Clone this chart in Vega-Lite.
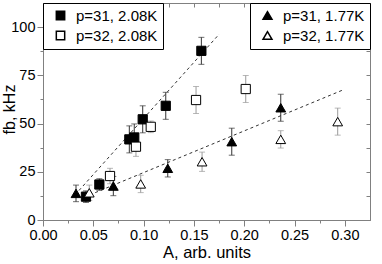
{
  "$schema": "https://vega.github.io/schema/vega-lite/v6.json",
  "width": 327,
  "height": 217,
  "autosize": {"type": "none"},
  "padding": {"left": 43, "top": 3, "right": 12, "bottom": 44},
  "background": "white",
  "config": {
    "font": "Liberation Sans",
    "view": {"stroke": "#808080"},
    "axis": {"domainColor": "#808080", "tickColor": "#808080", "labelColor": "black", "titleColor": "black", "labelFont": "Liberation Sans", "titleFont": "Liberation Sans", "titleFontWeight": "normal", "grid": false, "labelFontSize": 14.5, "titleFontSize": 16, "labelFlush": false},
    "legend": {"labelFont": "Liberation Sans"}
  },
  "datasets": {
    "pts": [
      {"A": 0.0427, "f": 12.1, "lo": 9.1, "hi": 15.1, "series": "p=31, 2.08K", "temp": "2.08K"},
      {"A": 0.0560, "f": 18.4, "lo": 15.4, "hi": 21.4, "series": "p=31, 2.08K", "temp": "2.08K"},
      {"A": 0.0858, "f": 41.8, "lo": 34.8, "hi": 48.8, "series": "p=31, 2.08K", "temp": "2.08K"},
      {"A": 0.0907, "f": 42.8, "lo": 35.8, "hi": 49.8, "series": "p=31, 2.08K", "temp": "2.08K"},
      {"A": 0.0991, "f": 52.2, "lo": 45.2, "hi": 59.2, "series": "p=31, 2.08K", "temp": "2.08K"},
      {"A": 0.1220, "f": 59.2, "lo": 52.2, "hi": 66.2, "series": "p=31, 2.08K", "temp": "2.08K"},
      {"A": 0.1574, "f": 87.7, "lo": 80.7, "hi": 94.7, "series": "p=31, 2.08K", "temp": "2.08K"},
      {"A": 0.0666, "f": 22.8, "lo": 18.8, "hi": 26.8, "series": "p=32, 2.08K", "temp": "2.08K"},
      {"A": 0.0924, "f": 38.0, "lo": 33.0, "hi": 43.0, "series": "p=32, 2.08K", "temp": "2.08K"},
      {"A": 0.1071, "f": 48.3, "lo": 45.3, "hi": 51.3, "series": "p=32, 2.08K", "temp": "2.08K"},
      {"A": 0.1521, "f": 62.2, "lo": 55.2, "hi": 69.2, "series": "p=32, 2.08K", "temp": "2.08K"},
      {"A": 0.2015, "f": 67.9, "lo": 60.9, "hi": 74.9, "series": "p=32, 2.08K", "temp": "2.08K"},
      {"A": 0.0328, "f": 13.8, "lo": 9.5, "hi": 18.1, "series": "p=31, 1.77K", "temp": "1.77K"},
      {"A": 0.0699, "f": 17.6, "lo": 12.6, "hi": 22.6, "series": "p=31, 1.77K", "temp": "1.77K"},
      {"A": 0.1240, "f": 26.8, "lo": 22.3, "hi": 31.3, "series": "p=31, 1.77K", "temp": "1.77K"},
      {"A": 0.1876, "f": 40.6, "lo": 33.6, "hi": 47.6, "series": "p=31, 1.77K", "temp": "1.77K"},
      {"A": 0.2363, "f": 58.2, "lo": 51.2, "hi": 65.2, "series": "p=31, 1.77K", "temp": "1.77K"},
      {"A": 0.0460, "f": 14.1, "lo": 10.1, "hi": 18.1, "series": "p=32, 1.77K", "temp": "1.77K"},
      {"A": 0.0971, "f": 18.7, "lo": 14.2, "hi": 23.2, "series": "p=32, 1.77K", "temp": "1.77K"},
      {"A": 0.1581, "f": 30.2, "lo": 25.2, "hi": 35.2, "series": "p=32, 1.77K", "temp": "1.77K"},
      {"A": 0.2363, "f": 41.8, "lo": 37.3, "hi": 46.3, "series": "p=32, 1.77K", "temp": "1.77K"},
      {"A": 0.2929, "f": 51.0, "lo": 44.0, "hi": 58.0, "series": "p=32, 1.77K", "temp": "1.77K"}
    ],
    "fits": [
      {"A": 0.0318, "f": 13.0, "fit": "2.08K"},
      {"A": 0.1752, "f": 96.4, "fit": "2.08K"},
      {"A": 0.0464, "f": 13.0, "fit": "1.77K"},
      {"A": 0.2985, "f": 67.5, "fit": "1.77K"}
    ]
  },
  "layer": [
    {
      "data": {"name": "pts"},
      "transform": [{"filter": "indexof(datum.series, 'p=31') == 0"}],
      "mark": {"type": "errorbar", "color": "#333333", "ticks": {"size": 6}, "rule": {"strokeWidth": 1}},
      "encoding": {
        "x": {"field": "A", "type": "quantitative", "scale": {"domain": [0, 0.325], "nice": false, "zero": false},
          "axis": {"orient": "bottom", "title": "A, arb. units", "titleFontSize": 16.5, "titlePadding": 3, "labelPadding": 2,
            "values": [0, 0.025, 0.05, 0.075, 0.1, 0.125, 0.15, 0.175, 0.2, 0.225, 0.25, 0.275, 0.3],
            "labelExpr": "round(datum.value*1000) % 50 == 0 ? format(datum.value, '.2f') : ''",
            "tickSize": {"condition": {"test": "round(datum.value*1000) % 50 == 0", "value": 6}, "value": 3}}},
        "y": {"field": "lo", "type": "quantitative", "scale": {"domain": [0, 112.5], "nice": false},
          "axis": {"orient": "left", "title": "fb, kHz", "titleX": -29, "titleY": 106, "titleBaseline": "alphabetic", "titleAngle": -90, "titleAlign": "center", "labelPadding": 2, "format": "d",
            "values": [0, 12.5, 25, 37.5, 50, 62.5, 75, 87.5, 100],
            "labelExpr": "datum.value % 25 == 0 ? datum.label : ''",
            "tickSize": {"condition": {"test": "datum.value % 25 == 0", "value": 6}, "value": 3}}},
        "y2": {"field": "hi"}
      }
    },
    {
      "data": {"name": "pts"},
      "transform": [{"filter": "indexof(datum.series, 'p=32') == 0"}],
      "mark": {"type": "errorbar", "color": "#9a9a9a", "ticks": {"size": 6}, "rule": {"strokeWidth": 1}},
      "encoding": {
        "x": {"field": "A", "type": "quantitative", "axis": null},
        "y": {"field": "lo", "type": "quantitative", "axis": null},
        "y2": {"field": "hi"}
      }
    },
    {
      "data": {"name": "fits"},
      "mark": {"type": "line", "color": "#333333", "strokeWidth": 1, "strokeDash": [3, 3]},
      "encoding": {
        "x": {"field": "A", "type": "quantitative",
          "axis": {"orient": "top", "title": null, "labels": false, "tickSize": -4,
            "values": [0, 0.025, 0.05, 0.075, 0.1, 0.125, 0.15, 0.175, 0.2, 0.225, 0.25, 0.275, 0.3]}},
        "y": {"field": "f", "type": "quantitative",
          "axis": {"orient": "right", "title": null, "labels": false, "tickSize": -4,
            "values": [0, 12.5, 25, 37.5, 50, 62.5, 75, 87.5, 100]}},
        "detail": {"field": "fit"}
      }
    },
    {
      "data": {"name": "pts"},
      "transform": [{"filter": "datum.temp == '2.08K'"}],
      "mark": {"type": "point", "stroke": "black", "strokeWidth": 1, "opacity": 1, "size": 85},
      "encoding": {
        "x": {"field": "A", "type": "quantitative", "axis": null},
        "y": {"field": "f", "type": "quantitative", "axis": null},
        "fill": {"field": "series", "type": "nominal", "scale": {"domain": ["p=31, 2.08K", "p=32, 2.08K"], "range": ["black", "white"]},
          "legend": {"orient": "top-left", "title": null, "offset": 0, "padding": 5, "strokeColor": "black", "fillColor": "white", "labelFontSize": 15, "labelColor": "black", "symbolSize": 70, "symbolOffset": 5, "labelOffset": 8, "rowPadding": 4,
            "encode": {"symbols": {"stroke": {"value": "black"}, "strokeWidth": {"value": 1}}}}},
        "shape": {"field": "series", "type": "nominal", "scale": {"domain": ["p=31, 2.08K", "p=32, 2.08K"], "range": ["square", "square"]},
          "legend": {"orient": "top-left", "title": null, "offset": 0, "padding": 5, "strokeColor": "black", "fillColor": "white", "labelFontSize": 15, "labelColor": "black", "symbolSize": 70, "symbolOffset": 5, "labelOffset": 8, "rowPadding": 4,
            "encode": {"symbols": {"stroke": {"value": "black"}, "strokeWidth": {"value": 1}}}}}
      }
    },
    {
      "data": {"name": "pts"},
      "transform": [{"filter": "datum.temp == '1.77K'"}],
      "mark": {"type": "point", "stroke": "black", "strokeWidth": 1, "opacity": 1, "size": 95},
      "encoding": {
        "x": {"field": "A", "type": "quantitative", "axis": null},
        "y": {"field": "f", "type": "quantitative", "axis": null},
        "fill": {"field": "series", "type": "nominal", "scale": {"domain": ["p=31, 1.77K", "p=32, 1.77K"], "range": ["black", "white"]},
          "legend": {"orient": "top-right", "title": null, "offset": 0, "padding": 5, "strokeColor": "black", "fillColor": "white", "labelFontSize": 15, "labelColor": "black", "symbolSize": 80, "symbolOffset": 5, "labelOffset": 8, "rowPadding": 4,
            "encode": {"symbols": {"stroke": {"value": "black"}, "strokeWidth": {"value": 1}}}}},
        "shape": {"field": "series", "type": "nominal", "scale": {"domain": ["p=31, 1.77K", "p=32, 1.77K"], "range": ["triangle-up", "triangle-up"]},
          "legend": {"orient": "top-right", "title": null, "offset": 0, "padding": 5, "strokeColor": "black", "fillColor": "white", "labelFontSize": 15, "labelColor": "black", "symbolSize": 80, "symbolOffset": 5, "labelOffset": 8, "rowPadding": 4,
            "encode": {"symbols": {"stroke": {"value": "black"}, "strokeWidth": {"value": 1}}}}}
      }
    }
  ],
  "resolve": {"scale": {"shape": "independent", "fill": "independent"}, "axis": {"x": "independent", "y": "independent"}}
}
